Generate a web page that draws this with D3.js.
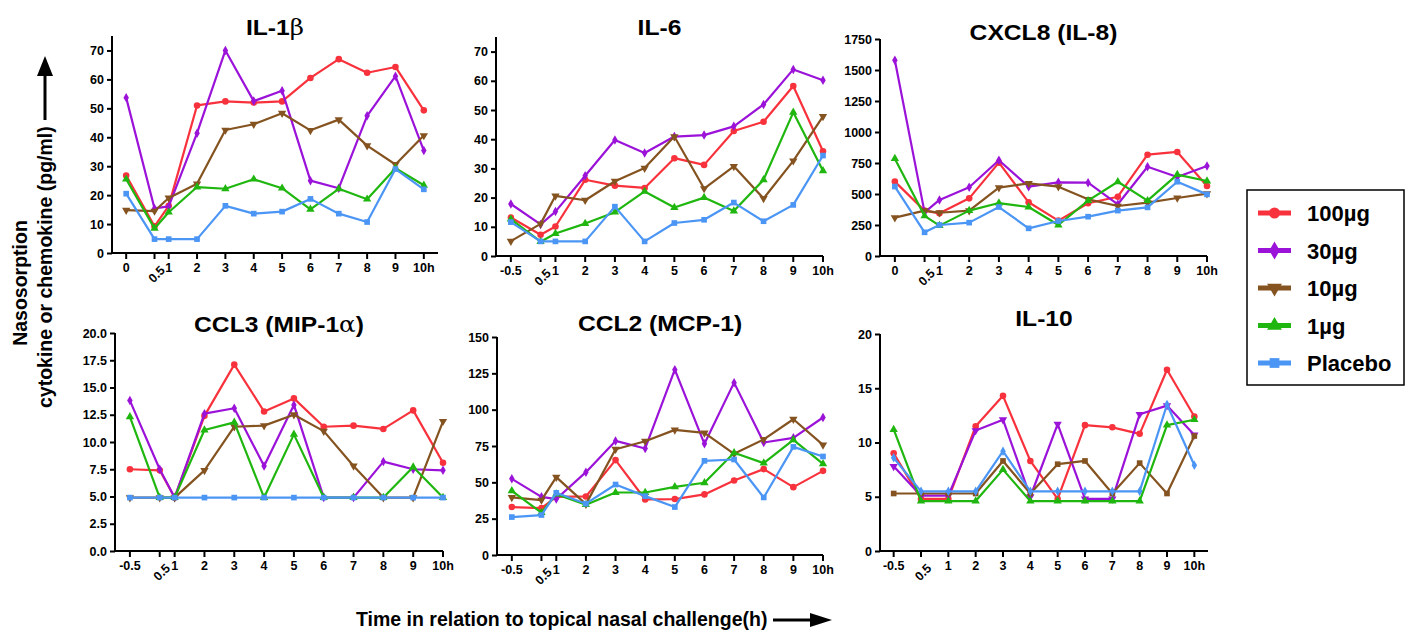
<!DOCTYPE html>
<html><head><meta charset="utf-8">
<script src="https://cdn.jsdelivr.net/npm/d3@7"></script>
<style>
body{margin:0;background:#fff}
svg{display:block}
text{font-family:"Liberation Sans",Arial,Helvetica,sans-serif;font-weight:bold;fill:#000}
</style>
</head><body>
<svg id="c" width="1406" height="631"></svg>
<script>
// ---------- data ----------
const times = [-0.5, 0.5, 1, 2, 3, 4, 5, 6, 7, 8, 9, 10];
const labelsZero = ["0", "0.5", "1", "2", "3", "4", "5", "6", "7", "8", "9", "10h"];
const labelsNeg = ["-0.5", "0.5", "1", "2", "3", "4", "5", "6", "7", "8", "9", "10h"];
const groups = ["100\u00b5g", "30\u00b5g", "10\u00b5g", "1\u00b5g", "Placebo"];

// each panel: rows = 100µg, 30µg, 10µg, 1µg, Placebo
const il1b = [
  [26.8, 9.2, 16.3, 51.0, 52.4, 52.0, 52.4, 60.5, 67.0, 62.3, 64.3, 49.3],
  [53.7, 15.4, 16.1, 41.4, 70.0, 52.5, 56.1, 25.0, 22.4, 47.4, 61.1, 35.4],
  [14.8, 14.5, 19.0, 23.9, 42.5, 44.5, 48.3, 42.4, 46.1, 37.1, 30.6, 40.6],
  [25.5, 8.5, 14.1, 22.8, 22.2, 25.5, 22.4, 15.1, 22.2, 18.6, 29.3, 23.4],
  [20.5, 4.8, 4.8, 4.8, 16.3, 13.6, 14.3, 18.7, 13.6, 10.7, 29.0, 22.0]
];
const il6 = [
  [13.2, 7.3, 10.1, 26.1, 24.1, 23.3, 33.5, 31.2, 42.8, 46.0, 58.2, 35.9],
  [17.8, 10.8, 15.2, 27.5, 39.7, 35.3, 40.9, 41.4, 44.4, 51.9, 63.9, 60.2],
  [5.1, 11.0, 20.6, 19.1, 25.6, 30.1, 40.9, 23.1, 30.7, 19.7, 32.6, 47.8],
  [12.6, 4.9, 7.7, 11.1, 15.0, 22.1, 16.6, 20.0, 15.4, 26.1, 49.2, 29.2],
  [11.6, 5.0, 5.0, 5.0, 16.9, 5.0, 11.3, 12.4, 18.3, 11.9, 17.5, 34.4]
];
const cxcl8 = [
  [600, 366, 344, 465, 753, 433, 285, 425, 478, 817, 839, 565],
  [1578, 352, 452, 554, 772, 559, 594, 591, 417, 720, 637, 726],
  [309, 366, 349, 366, 551, 586, 559, 457, 403, 430, 468, 503],
  [785, 323, 245, 366, 427, 395, 250, 446, 599, 446, 656, 605],
  [560, 191, 250, 269, 395, 223, 282, 317, 366, 392, 599, 497]
];
const ccl3 = [
  [7.5, 7.4, 4.9, 12.4, 17.1, 12.8, 14.0, 11.4, 11.5, 11.2, 12.9, 8.1],
  [13.8, 7.5, 4.9, 12.6, 13.1, 7.8, 13.4, 4.9, 4.9, 8.2, 7.5, 7.4],
  [4.9, 4.9, 4.9, 7.4, 11.4, 11.5, 12.5, 11.0, 7.8, 4.9, 4.9, 11.9],
  [12.3, 4.9, 4.9, 11.1, 11.8, 4.9, 10.7, 4.9, 4.9, 4.9, 7.7, 4.9],
  [4.9, 4.9, 4.9, 4.9, 4.9, 4.9, 4.9, 4.9, 4.9, 4.9, 4.9, 4.9]
];
const ccl2 = [
  [33.0, 32.3, 40.0, 40.3, 65.3, 38.2, 38.5, 41.7, 51.3, 59.1, 46.7, 57.9],
  [52.4, 40.0, 38.5, 57.0, 78.5, 73.3, 127.5, 76.5, 118.6, 77.4, 80.6, 94.6],
  [39.6, 37.8, 53.6, 35.0, 72.8, 78.3, 86.1, 84.0, 69.6, 79.5, 93.4, 75.8],
  [44.2, 29.1, 41.9, 34.6, 43.0, 43.0, 46.9, 49.7, 70.3, 63.2, 79.2, 62.7],
  [26.1, 27.5, 42.8, 35.3, 48.5, 40.5, 33.0, 64.8, 65.7, 39.6, 74.4, 67.8]
];
const il10 = [
  [9.0, 4.8, 4.8, 11.5, 14.3, 8.3, 4.8, 11.6, 11.4, 10.8, 16.7, 12.4],
  [7.8, 5.1, 5.1, 11.1, 12.1, 5.0, 11.7, 4.8, 4.8, 12.6, 13.4, 10.7],
  [5.3, 5.3, 5.3, 5.3, 8.3, 5.3, 8.0, 8.3, 5.3, 8.1, 5.3, 10.6],
  [11.2, 4.6, 4.6, 4.6, 7.5, 4.6, 4.6, 4.6, 4.6, 4.6, 11.6, 12.1],
  [8.6, 5.5, 5.5, 5.5, 9.2, 5.5, 5.5, 5.5, 5.5, 5.5, 13.5, 7.9]
];

// ---------- style ----------
const colors = ["#f8323c", "#9b12d8", "#845320", "#1fb60f", "#4b95f5"];
const symCircle = d3.symbol().type(d3.symbolCircle).size(34);
const symDiamond = d3.symbol().type(d3.symbolDiamond).size(26);
const symTri = d3.symbol().type(d3.symbolTriangle).size(30);
const symSquare = d3.symbol().type(d3.symbolSquare).size(32);
// marker spec: [generator, rotation]
const marksDefault = [[symCircle,0],[symDiamond,0],[symTri,180],[symTri,0],[symSquare,0]];
const marksIL10 = [[symCircle,0],[symTri,180],[symSquare,0],[symTri,0],[symDiamond,0]];

const panels = [
  {title:[["IL-1",0],["\u03b2",1]], data:il1b, L:112,R:438,T:36,B:253, ymax:75, yt:d3.range(0,71,10), fmt:d3.format("d"), xd:[-1,10.5], lab:labelsZero, ty:35},
  {title:[["IL-6",0]], data:il6, L:496,R:823,T:37,B:256, ymax:75, yt:d3.range(0,71,10), fmt:d3.format("d"), xd:[-1,10], lab:labelsNeg, ty:35},
  {title:[["CXCL8 (IL-8)",0]], data:cxcl8, L:880,R:1207,T:39,B:256, ymax:1750, yt:d3.range(0,1751,250), fmt:d3.format("d"), xd:[-1,10], lab:labelsZero, ty:40},
  {title:[["CCL3 (MIP-1",0],["\u03b1",1],[")",0]], data:ccl3, L:115,R:443,T:333,B:551, ymax:20, yt:d3.range(0,20.01,2.5), fmt:d3.format(".1f"), xd:[-1,10], lab:labelsNeg, ty:332},
  {title:[["CCL2 (MCP-1)",0]], data:ccl2, L:497,R:823,T:337,B:555, ymax:150, yt:d3.range(0,151,25), fmt:d3.format("d"), xd:[-1,10], lab:labelsNeg, ty:331},
  {title:[["IL-10",0]], data:il10, L:880,R:1208,T:334,B:551, ymax:20, yt:[0,5,10,15,20], fmt:d3.format("d"), point:true, lab:labelsNeg, ty:326, marks:marksIL10}
];

const svg = d3.select("#c");

panels.forEach(p => {
  const g = svg.append("g");
  const y = d3.scaleLinear().domain([0, p.ymax]).range([p.B, p.T]);
  let xf;
  if (p.point) {
    const xs = d3.scalePoint().domain(times.map(String)).range([p.L, p.R]).padding(0.5);
    xf = t => xs(String(t));
  } else {
    const xs = d3.scaleLinear().domain(p.xd).range([p.L, p.R]);
    xf = t => xs(t);
  }
  // y axis
  const ya = g.append("g").attr("transform", `translate(${p.L},0)`)
    .call(d3.axisLeft(y).tickValues(p.yt).tickFormat(p.fmt).tickSize(5).tickSizeOuter(0).tickPadding(3));
  ya.selectAll("text").style("font-size", "12.5px").style("font-weight", "bold");
  // x axis (custom positions through the scale)
  const xa = g.append("g").attr("transform", `translate(0,${p.B})`);
  xa.append("line").attr("x1", p.L).attr("x2", p.R).attr("stroke", "#000").attr("stroke-width", 2);
  const tk = xa.selectAll("g.tk").data(times).join("g").attr("class","tk")
    .attr("transform", d => `translate(${xf(d)},0)`);
  tk.append("line").attr("y1", 0).attr("y2", 6).attr("stroke", "#000").attr("stroke-width", 2);
  tk.append("text")
    .attr("text-anchor", (d,i) => i === 1 ? "end" : "middle")
    .attr("transform", (d,i) => i === 1 ? "translate(5,12) rotate(-45)" : "translate(0,19)")
    .attr("dy", (d,i) => i === 1 ? "0.7em" : 0)
    .style("font-size", "12.5px")
    .text((d,i) => p.lab[i]);
  ya.select(".domain").attr("stroke-width", 2).attr("d", `M0,${p.T}V${p.B}`);
  ya.selectAll(".tick line").attr("stroke-width", 2);

  // series
  const marks = p.marks || marksDefault;
  const line = d3.line().x((d,i) => xf(times[i])).y(d => y(d));
  p.data.forEach((vals, si) => {
    g.append("path").datum(vals).attr("d", line).attr("fill", "none")
      .attr("stroke", colors[si]).attr("stroke-width", 2.2).attr("stroke-linejoin", "round");
    g.selectAll(null).data(vals).join("path")
      .attr("d", marks[si][0]())
      .attr("transform", (d,i) => `translate(${xf(times[i])},${y(d)}) rotate(${marks[si][1]})`)
      .attr("fill", colors[si]);
  });

  // title
  const cx = (p.L + p.R) / 2;
  const t = g.append("text").attr("text-anchor", "middle")
    .attr("transform", `translate(${cx},${p.ty}) scale(1.12,1)`)
    .style("font-size", "22px");
  p.title.forEach(([s, sym]) => {
    const ts = t.append("tspan").text(s);
    if (sym) ts.style("font-family", "'DejaVu Serif',serif").style("font-weight", "normal");
  });
});

// y label
const yl = svg.append("g");
yl.append("text").attr("transform", "translate(27,283) rotate(-90)").attr("text-anchor", "middle")
  .style("font-size", "19.5px").text("Nasosorption");
yl.append("text").attr("transform", "translate(52,408) rotate(-90)").attr("text-anchor", "start")
  .style("font-size", "19.5px").text("cytokine or chemokine (pg/ml)");
yl.append("line").attr("x1", 45).attr("x2", 45).attr("y1", 120).attr("y2", 72).attr("stroke", "#000").attr("stroke-width", 3);
yl.append("path").attr("d", "M45,56 L37,76 L53,76 Z").attr("fill", "#000");

// x label
const xl = svg.append("g");
xl.append("text").attr("x", 356).attr("y", 626).style("font-size", "19.5px")
  .text("Time in relation to topical nasal challenge(h)");
xl.append("line").attr("x1", 773).attr("x2", 815).attr("y1", 620).attr("y2", 620).attr("stroke", "#000").attr("stroke-width", 3);
xl.append("path").attr("d", "M832,620 L810,613 L810,627 Z").attr("fill", "#000");

// legend
const lg = svg.append("g");
lg.append("rect").attr("x", 1247).attr("y", 190).attr("width", 157).attr("height", 195)
  .attr("fill", "#fff").attr("stroke", "#000").attr("stroke-width", 1.5);
const lgY = d3.scalePoint().domain(groups).range([213, 363]);
groups.forEach((gname, i) => {
  const yy = lgY(gname);
  lg.append("line").attr("x1", 1258).attr("x2", 1291).attr("y1", yy).attr("y2", yy)
    .attr("stroke", colors[i]).attr("stroke-width", 5);
  const gen = marksDefault[i][0];
  lg.append("path").attr("d", d3.symbol().type(gen.type()).size(95)())
    .attr("transform", `translate(1274.5,${yy}) rotate(${marksDefault[i][1]})`).attr("fill", colors[i]);
  lg.append("text").attr("x", 1307).attr("y", yy + 8).style("font-size", "22px").text(gname);
});
</script>
</body></html>
